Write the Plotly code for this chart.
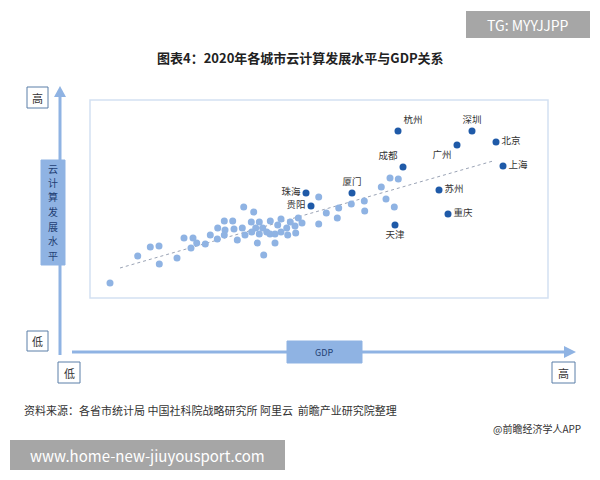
import plotly.graph_objects as go

# light points: GDP (arbitrary scale) vs cloud level (arbitrary scale)
gdp_other = [110, 137.7, 150.3, 159, 159.3, 177, 184, 193, 191, 196.7, 205.3, 210.3, 217.7, 217.3,
             224.3, 225, 224.3, 232.7, 234, 237.3, 242.3, 245, 243.7, 253.7, 251.3, 251.7, 255.7,
             259.3, 257.3, 259.3, 262.7, 263.7, 266.7, 270.3, 270, 275, 275, 277.7, 281, 281,
             286.7, 287.7, 290.3, 295, 295.7, 298.3, 302, 318.7, 318.7, 326.3, 337.3, 338.7,
             351.3, 364.3, 364.7, 381.3, 386, 390, 394.3, 398.3]
cloud_other = [17, 44, 53, 54, 36, 42, 62, 62, 52, 57, 56, 65, 72, 61,
               79, 70, 65, 79, 71, 60, 72, 65, 93, 88, 78, 68, 72,
               78, 57, 66, 72, 45, 68, 79, 66, 66, 57, 75, 81, 68,
               72, 65, 78, 74, 67, 82, 77, 103, 76, 87, 82, 92,
               96, 99, 89, 113, 101, 122, 93, 121]

cities = ["杭州", "深圳", "广州", "北京", "上海", "成都", "厦门", "珠海", "贵阳", "苏州", "重庆", "天津"]
gdp_city = [398, 472, 457, 496, 503, 403, 352, 306, 311, 439, 448, 395]
cloud_city = [169, 169, 155, 158, 134, 133, 107, 107, 94, 110, 86, 75]
label_pos = ["top right", "top center", "bottom left", "middle right", "middle right", "top left",
             "top center", "middle left", "middle left", "middle right", "middle right", "bottom center"]

trend_x = [120, 493]
trend_y = [32, 139]

y_label = "云计算发展水平"

# page body has an 8px margin, so the figure is shrunk and coordinates shifted
OFF = 8
W, H = 600 - OFF, 480 - OFF
def px(x): return (x - OFF) / W
def py(y): return 1 - (y - OFF) / H

fig = go.Figure()
fig.add_trace(go.Scatter(x=trend_x, y=trend_y, mode="lines",
                         line=dict(color="#9aa3b5", width=1, dash="dot"), hoverinfo="skip"))
fig.add_trace(go.Scatter(x=gdp_other, y=cloud_other, mode="markers",
                         marker=dict(color="#8fb3e3", size=7)))
fig.add_trace(go.Scatter(x=gdp_city, y=cloud_city, mode="markers+text", text=cities,
                         textposition=label_pos,
                         textfont=dict(size=9.5, color="#333333", family="Noto Sans CJK SC"),
                         marker=dict(color="#1f5aa8", size=7)))

shapes = [
    dict(type="rect", xref="paper", yref="paper", x0=px(90), x1=px(548), y0=py(298), y1=py(100),
         line=dict(color="#d3e1f2", width=1.5)),
    dict(type="line", xref="paper", yref="paper", x0=px(60), x1=px(60), y0=py(355), y1=py(95),
         line=dict(color="#8fb3e3", width=3)),
    dict(type="line", xref="paper", yref="paper", x0=px(72), x1=px(565), y0=py(352), y1=py(352),
         line=dict(color="#8fb3e3", width=3)),
    dict(type="path", xref="paper", yref="paper",
         path=f"M {px(54)} {py(97)} L {px(66)} {py(97)} L {px(60)} {py(86)} Z",
         fillcolor="#8fb3e3", line=dict(width=0)),
    dict(type="path", xref="paper", yref="paper",
         path=f"M {px(564)} {py(346)} L {px(564)} {py(358)} L {px(576)} {py(352)} Z",
         fillcolor="#8fb3e3", line=dict(width=0)),
    dict(type="rect", xref="paper", yref="paper", x0=px(287), x1=px(362), y0=py(363), y1=py(341),
         fillcolor="#8fb3e3", line=dict(color="#8fb3e3", width=1)),
    dict(type="rect", xref="paper", yref="paper", x0=px(41), x1=px(65), y0=py(265), y1=py(160),
         fillcolor="#8fb3e3", line=dict(color="#8fb3e3", width=1)),
    dict(type="rect", xref="paper", yref="paper", x0=px(466), x1=px(590), y0=py(38), y1=py(11),
         fillcolor="#a6a6a6", line=dict(width=0)),
    dict(type="rect", xref="paper", yref="paper", x0=px(10), x1=px(285), y0=py(470), y1=py(440),
         fillcolor="#a6a6a6", line=dict(width=0)),
]
for (x0, x1, y0, y1) in [(27, 48, 108, 87), (27, 48, 351, 331), (58, 80, 383, 362), (552, 575, 383, 362)]:
    shapes.append(dict(type="rect", xref="paper", yref="paper", x0=px(x0), x1=px(x1), y0=py(y0), y1=py(y1),
                       line=dict(color="#5b7fa8", width=1), fillcolor="white"))
for s in shapes:
    s["layer"] = "below"

ff = "Noto Sans CJK SC"
def ann(x, y, t, size=11, color="#333333", xanchor="center"):
    return dict(xref="paper", yref="paper", x=px(x), y=py(y), text=t, showarrow=False,
                xanchor=xanchor, yanchor="middle", borderpad=0,
                font=dict(size=size, color=color, family=ff))

annotations = [
    ann(300, 58, "<b>图表4：2020年各城市云计算发展水平与GDP关系</b>", 13, "#222222"),
    ann(528, 25, "TG: MYYJJPP", 14, "white"),
    ann(147, 455, "www.home-new-jiuyousport.com", 15, "white"),
    ann(37, 98, "高", 11), ann(37, 341, "低", 11), ann(69, 373, "低", 11), ann(563, 373, "高", 11),
    ann(324, 352, "GDP", 9, "#1f3f73"),
    ann(23, 410, "资料来源：各省市统计局 中国社科院战略研究所 阿里云  前瞻产业研究院整理", 11, "#333333",
        xanchor="left"),
    ann(582, 428, "@前瞻经济学人APP", 10, "#333333", xanchor="right"),
]
for i, ch in enumerate(y_label):
    annotations.append(ann(53, 168 + i * 14.5, ch, 10, "#1f3f73"))

fig.update_layout(
    width=W, height=H, margin=dict(l=0, r=0, t=0, b=0),
    paper_bgcolor="white", plot_bgcolor="white", showlegend=False,
    xaxis=dict(domain=[px(90), px(548)], range=[90, 548], visible=False),
    yaxis=dict(domain=[py(298), py(100)], range=[2, 200], visible=False),
    shapes=shapes, annotations=annotations,
)
fig.write_html("out.html")
